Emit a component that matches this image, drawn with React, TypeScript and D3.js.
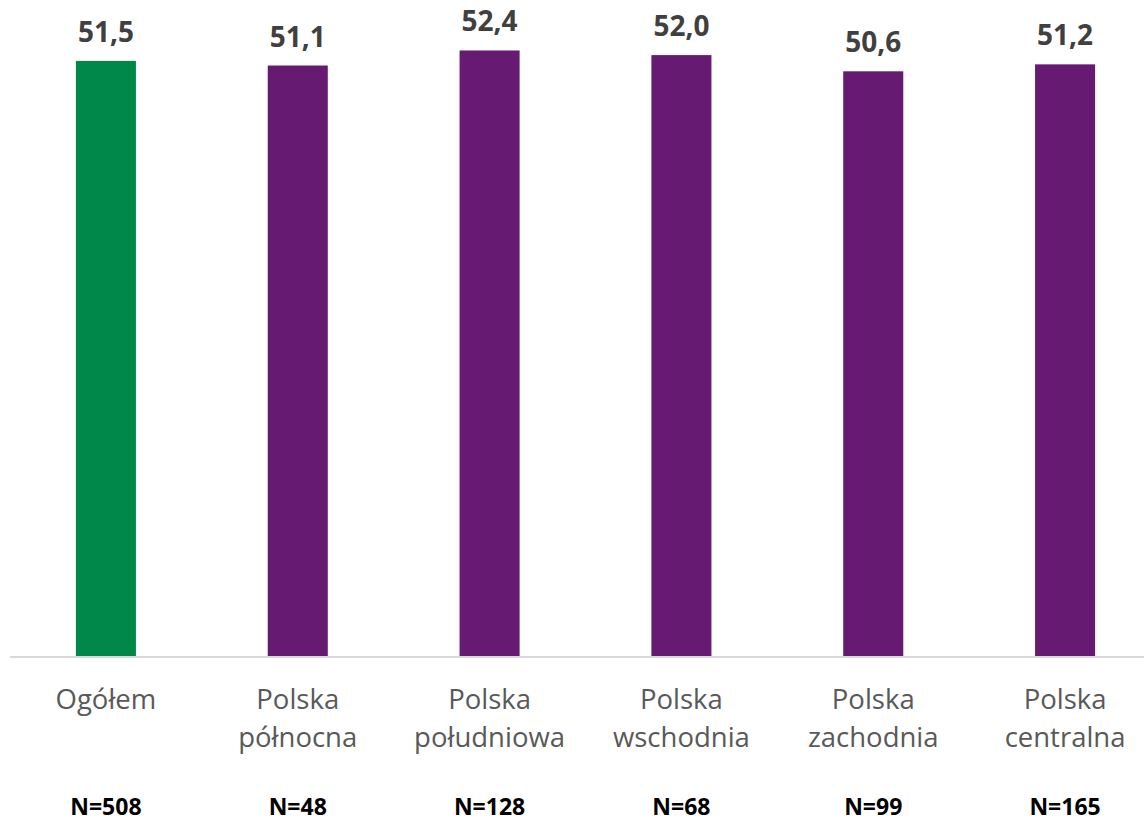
import React from "react";
import * as d3 from "d3";

const categories: string[][] = [
  ["Ogółem"],
  ["Polska", "północna"],
  ["Polska", "południowa"],
  ["Polska", "wschodnia"],
  ["Polska", "zachodnia"],
  ["Polska", "centralna"],
];
const values: number[] = [51.5, 51.1, 52.4, 52.0, 50.6, 51.2];
const sampleSizes: string[] = ["N=508", "N=48", "N=128", "N=68", "N=99", "N=165"];
const colors: string[] = ["#00884a", "#661a72", "#661a72", "#661a72", "#661a72", "#661a72"];

const W = 1144;
const H = 819;
const baseY = 657;
const FONT = "'Open Sans', 'Noto Sans', sans-serif";

export default function App() {
  const keys = categories.map((c) => c.join(" "));
  const x = d3
    .scaleBand<string>()
    .domain(keys)
    .range([10, 1161])
    .paddingInner(0.687)
    .paddingOuter(0.3435);
  const y = d3.scaleLinear().domain([0, 56]).range([baseY, baseY - 56 * 11.575]);
  const fmt = (v: number) => d3.format(".1f")(v).replace(".", ",");

  return (
    <svg
      width={W}
      height={H}
      style={{ position: "absolute", left: 0, top: 0, background: "#fff" }}
      fontFamily={FONT}
    >
      {values.map((v, i) => {
        const cx = x(keys[i])! + x.bandwidth() / 2;
        return (
          <g key={i}>
            <rect
              x={x(keys[i])}
              y={y(v)}
              width={x.bandwidth()}
              height={y(0) - y(v)}
              fill={colors[i]}
            />
            <text
              x={cx}
              y={y(v) - 19}
              textAnchor="middle"
              fontSize={28}
              fontWeight={700}
              fill="#404040"
            >
              {fmt(v)}
            </text>
            {categories[i].map((line, j) => (
              <text
                key={j}
                x={cx}
                y={709 + j * 38}
                textAnchor="middle"
                fontSize={27.5}
                fill="#595959"
              >
                {line}
              </text>
            ))}
            <text
              x={cx}
              y={815}
              textAnchor="middle"
              fontSize={23}
              fontWeight={700}
              fill="#000"
            >
              {sampleSizes[i]}
            </text>
          </g>
        );
      })}
      <line x1={10} x2={W} y1={baseY} y2={baseY} stroke="#d9d9d9" strokeWidth={2} />
    </svg>
  );
}
